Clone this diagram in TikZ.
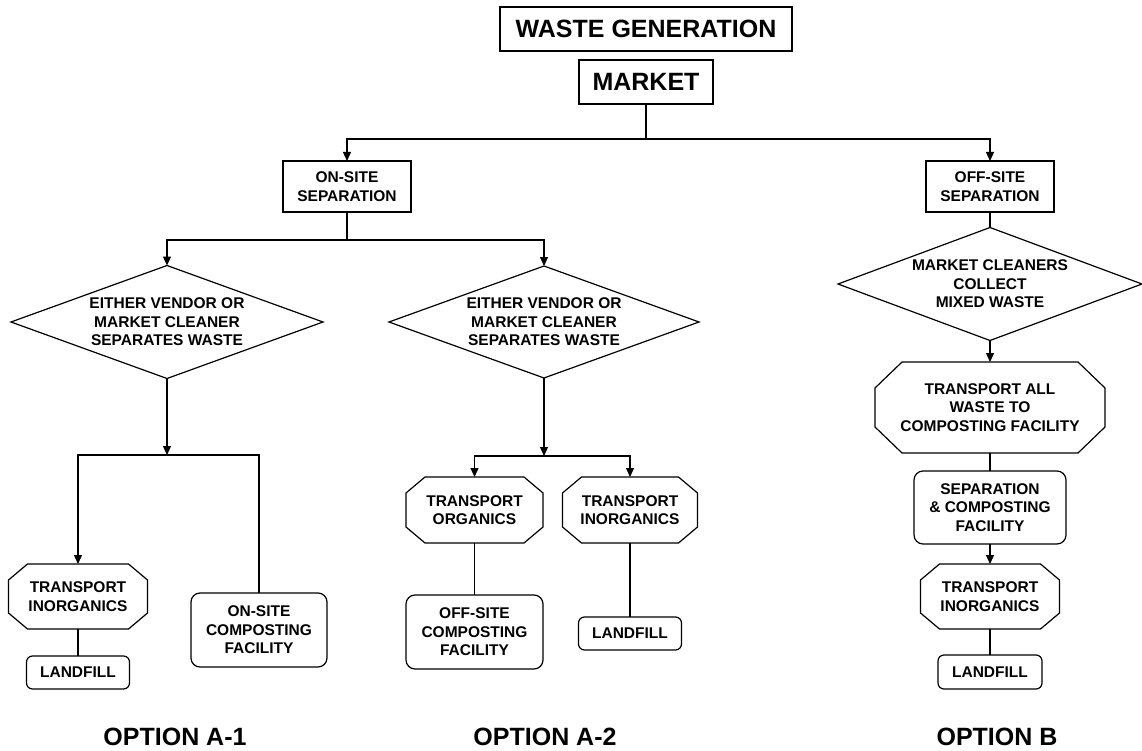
\documentclass[tikz,border=0pt]{standalone}
\usepackage{fontspec}
\setmainfont{Liberation Sans}
\usetikzlibrary{shapes.geometric,arrows.meta}
\newcommand\octoframe[3]{\draw[line width=1.2pt,line join=miter]
  ([xshift=#2]#1.north west) -- ([xshift=-#2]#1.north east) --
  ([yshift=-#3]#1.north east) -- ([yshift=#3]#1.south east) --
  ([xshift=-#2]#1.south east) -- ([xshift=#2]#1.south west) --
  ([yshift=#3]#1.south west) -- ([yshift=-#3]#1.north west) -- cycle;}
\begin{document}
\begin{tikzpicture}[x=1pt,y=-1pt,
  lw/.style={line width=1.2pt},
  arr/.style={line width=1.2pt,-{Triangle[length=9pt,width=8pt]}},
  base/.style={line width=1.2pt,draw,inner sep=0pt,outer sep=0pt,align=center,
    font=\fontsize{15.5}{18.5}\selectfont\bfseries},
  bigbox/.style={base,rectangle,font=\fontsize{25}{30}\selectfont\bfseries},
  sqbox/.style={base,rectangle},
  rbox/.style={base,rectangle,rounded corners=9pt},
  sbox/.style={base,rectangle,rounded corners=6pt},
  octa/.style={base,rectangle,draw=none},
  dia/.style={base,diamond,aspect=2.7},
  optlbl/.style={inner sep=0pt,font=\fontsize{25}{30}\selectfont\bfseries}
]
\fill[white] (0,0) rectangle (1142,751);
\path[use as bounding box] (0,0) rectangle (1142,751);

\node[bigbox,minimum width=292pt,minimum height=44pt] (wg) at (646,29) {WASTE GENERATION};
\node[bigbox,minimum width=134pt,minimum height=44pt] (mk) at (646,82) {MARKET};
\node[sqbox,minimum width=128pt,minimum height=51pt] (on) at (347,186.5) {ON-SITE\\SEPARATION};
\node[sqbox,minimum width=128pt,minimum height=51pt] (off) at (990,186.5) {OFF-SITE\\SEPARATION};

\node[dia,minimum width=312pt,minimum height=113pt] (d1) at (167,322) {EITHER VENDOR OR\\MARKET CLEANER\\SEPARATES WASTE};
\node[dia,minimum width=310pt,minimum height=112pt] (d2) at (544,322) {EITHER VENDOR OR\\MARKET CLEANER\\SEPARATES WASTE};
\node[dia,minimum width=304pt,minimum height=113pt] (d3) at (990,284) {MARKET CLEANERS\\COLLECT\\MIXED WASTE};

\node[octa,minimum width=139pt,minimum height=65pt] (ti1) at (78,596.5) {TRANSPORT\\INORGANICS};
\node[sbox,minimum width=103pt,minimum height=33pt] (lf1) at (78,672.5) {LANDFILL};
\node[rbox,minimum width=136pt,minimum height=74pt] (onc) at (259,630) {ON-SITE\\COMPOSTING\\FACILITY};

\node[octa,minimum width=137pt,minimum height=66pt] (to2) at (474.5,510) {TRANSPORT\\ORGANICS};
\node[octa,minimum width=135pt,minimum height=66pt] (ti2) at (630,510) {TRANSPORT\\INORGANICS};
\node[rbox,minimum width=137pt,minimum height=74pt] (ofc) at (474.5,632) {OFF-SITE\\COMPOSTING\\FACILITY};
\node[sbox,minimum width=103pt,minimum height=33pt] (lf2) at (630,633.5) {LANDFILL};

\node[octa,minimum width=230pt,minimum height=91pt] (tall) at (990,407.5) {TRANSPORT ALL\\WASTE TO\\COMPOSTING FACILITY};
\node[rbox,minimum width=152pt,minimum height=73pt] (sep) at (990,507.5) {SEPARATION\\\& COMPOSTING\\FACILITY};
\node[octa,minimum width=139pt,minimum height=65pt] (ti3) at (990,596.5) {TRANSPORT\\INORGANICS};
\node[sbox,minimum width=104pt,minimum height=34pt] (lf3) at (990,672) {LANDFILL};

\octoframe{ti1}{19pt}{16pt}
\octoframe{to2}{19pt}{16pt}
\octoframe{ti2}{19pt}{16pt}
\octoframe{ti3}{19pt}{16pt}
\octoframe{tall}{27pt}{26pt}

\node[optlbl] (oa1) at (175,737) {OPTION A-1};
\node[optlbl] (oa2) at (545,737) {OPTION A-2};
\node[optlbl] (ob) at (997,737) {OPTION B};

\coordinate (j0) at (646,139);
\draw[lw] (mk.south) -- (j0);
\draw[arr] (j0) -| (on.north);
\draw[arr] (j0) -| (off.north);

\coordinate (j1) at (347,240);
\draw[lw] (on.south) -- (j1);
\draw[arr] (j1) -| (d1.north);
\draw[arr] (j1) -| (d2.north);

\coordinate (j2) at (167,455);
\draw[arr] (d1.south) -- (j2);
\draw[arr] (j2) -| (ti1.north);
\draw[lw] (j2) -| (onc.north);
\draw[lw] (ti1.south) -- (lf1.north);

\coordinate (j3) at (544,456);
\draw[arr] (d2.south) -- (j3);
\draw[arr] (j3) -| (to2.north);
\draw[arr] (j3) -| (ti2.north);
\draw[lw] (to2.south) -- (ofc.north);
\draw[lw] (ti2.south) -- (lf2.north);

\draw[lw] (off.south) -- (d3.north);
\draw[arr] (d3.south) -- (tall.north);
\draw[lw] (tall.south) -- (sep.north);
\draw[arr] (sep.south) -- (ti3.north);
\draw[lw] (ti3.south) -- (lf3.north);
\end{tikzpicture}
\end{document}
